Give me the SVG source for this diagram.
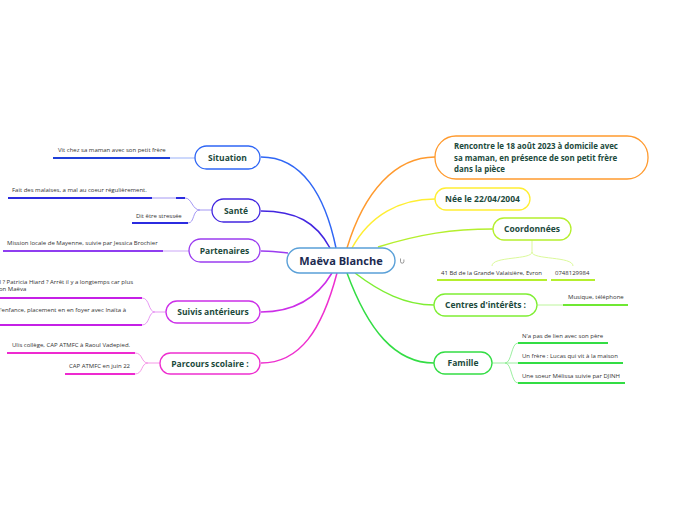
<svg xmlns="http://www.w3.org/2000/svg" width="696" height="520" viewBox="0 0 696 520">
<defs>
<style>
.lbl{font-family:"Open Sans","Noto Sans","DejaVu Sans",sans-serif;font-weight:700;font-size:8.5px;fill:#1c4a3c}
.r{font-size:7.9px}
.leaf{font-family:"Open Sans","Noto Sans","DejaVu Sans",sans-serif;font-size:6px;fill:#333}
.node{fill:#fff;stroke-width:1.3}
.c{fill:none;stroke-width:1.5}
.lt{fill:none;stroke-width:0.9}
.ul{fill:none;stroke-width:2}
</style>
</defs>
<rect width="696" height="520" fill="#fff"/>
<g id="connectors">
<path class="c" stroke="#2f66f5" d="M336,248 C325,195 302,157 261,157"/>
<path class="c" stroke="#4326e0" d="M330,248 C316,222 296,211 261,211"/>
<path class="c" stroke="#9b3cf0" d="M288,253 C276,252 270,251 261,251"/>
<path class="c" stroke="#cc2ee8" d="M332,273 C316,300 292,312 261,312"/>
<path class="c" stroke="#ee2fcf" d="M337,273 C322,330 300,363 261,363"/>
<path class="c" stroke="#ff9a2e" d="M347,248 C364,192 395,157 435,157"/>
<path class="c" stroke="#ffee33" d="M352,248 C370,215 400,199 435,199"/>
<path class="c" stroke="#b5ef2e" d="M378,247 C420,234 452,229 493,229"/>
<path class="c" stroke="#7fee33" d="M355,273 C380,292 405,305 434,305"/>
<path class="c" stroke="#33dd44" d="M347,273 C368,330 395,363 434,363"/>
<path class="lt" stroke="#8ea8f8" d="M170,158 H195"/>
<path class="lt" stroke="#9a8cf2" d="M212,210 H200 C192,210 192,198 185,198 M200,210 C192,210 195,223 188,223 M152,198 H176"/>
<path class="lt" stroke="#c59cf6" d="M163,251 H189"/>
<path class="lt" stroke="#e48cf2" d="M166,312 H155 C148,312 150,298 142,298 M155,312 C148,312 150,325 142,325"/>
<path class="lt" stroke="#f48ce4" d="M160,363 H148 C141,363 143,353 135,353 M148,363 C141,363 143,374 135,374"/>
<path class="lt" stroke="#d7f88e" d="M532,240 V252 C532,260 492,256 492,266 M532,252 C532,260 573,256 573,266"/>
<path class="lt" stroke="#b4f48e" d="M537,305 H563"/>
<path class="lt" stroke="#8eec94" d="M492,363 H505 C512,363 511,343 518,343 M505,363 H518 M505,363 C512,363 511,383 518,383"/>
<path class="ul" stroke="#1f40d8" d="M53,158 H170"/>
<path class="ul" stroke="#2b2be0" d="M8,198 H152 M176,198 H185 M132,223 H188"/>
<path class="ul" stroke="#8f3ef0" d="M3,251 H163"/>
<path class="ul" stroke="#c520e6" d="M0,298 H142 M0,325 H142"/>
<path class="ul" stroke="#ee2ad0" d="M7,353 H135 M65,374 H135"/>
<path class="ul" stroke="#b5ef2e" d="M437,280 H547 M551,280 H595"/>
<path class="ul" stroke="#6fe833" d="M563,305 H628"/>
<path class="ul" stroke="#33dd44" d="M518,343 H608 M518,363 H623 M518,383 H625"/>
</g>
<g id="center">
<rect x="287" y="248" width="108" height="25" rx="12.5" fill="#fff" stroke="#5aa0d8" stroke-width="1.4"/>
<text x="341" y="265" text-anchor="middle" style="font-family:'Open Sans','Noto Sans',sans-serif;font-weight:700;font-size:11px;fill:#1b2a50">Maëva Blanche</text>
<path d="M400.5,258.5 v3 a1.7,1.7 0 0 0 3.4,0 v-2" fill="none" stroke="#555" stroke-width="0.6"/>
</g>
<g id="situation">
<rect class="node" x="195" y="146" width="65" height="23" rx="11.5" stroke="#2f66f5"/>
<text class="lbl" x="227.5" y="160.5" text-anchor="middle">Situation</text>
<text class="leaf" x="58" y="152">Vit chez sa maman avec son petit frère</text>
</g>
<g id="sante">
<rect class="node" x="212" y="199" width="48" height="23" rx="11.5" stroke="#4326e0"/>
<text class="lbl" x="236" y="213.5" text-anchor="middle">Santé</text>
<text class="leaf" x="12" y="192">Fait des malaises, a mal au coeur régulièrement.</text>
<text class="leaf" x="136" y="218">Dit être stressée</text>
</g>
<g id="partenaires">
<rect class="node" x="189" y="239" width="71" height="23" rx="11.5" stroke="#9b3cf0"/>
<text class="lbl" x="224.5" y="253.5" text-anchor="middle">Partenaires</text>
<text class="leaf" x="7" y="245">Mission locale de Mayenne, suivie par Jessica Brochier</text>
</g>
<g id="suivis">
<rect class="node" x="166" y="301" width="94" height="22" rx="11" stroke="#cc2ee8"/>
<text class="lbl" x="213" y="315" text-anchor="middle">Suivis antérieurs</text>
<text class="leaf" x="133" y="284" text-anchor="end">l ? Patricia Hiard ? Arrêt il y a longtemps car plus</text>
<text class="leaf" x="-1" y="291">on Maëva</text>
<text class="leaf" x="126" y="312" text-anchor="end">l'enfance, placement en en foyer avec Inaïta à</text>
</g>
<g id="parcours">
<rect class="node" x="160" y="353" width="100" height="21" rx="10.5" stroke="#ee2fcf"/>
<text class="lbl" x="210" y="366.5" text-anchor="middle">Parcours scolaire :</text>
<text class="leaf" x="12" y="347">Ulis collège, CAP ATMFC à Raoul Vadepied.</text>
<text class="leaf" x="130" y="368" text-anchor="end">CAP ATMFC en juin 22</text>
</g>
<g id="rencontre">
<rect class="node" x="435" y="136" width="213" height="43" rx="21" stroke="#ff9a2e"/>
<text class="lbl r" x="454" y="149">Rencontre le 18 août 2023 à domicile avec</text>
<text class="lbl r" x="454" y="160.5">sa maman,  en présence de son petit frère</text>
<text class="lbl r" x="454" y="172">dans la pièce</text>
</g>
<g id="nee">
<rect class="node" x="435" y="188" width="95" height="22" rx="11" stroke="#ffee33"/>
<text class="lbl" x="482.5" y="202" text-anchor="middle">Née le 22/04/2004</text>
</g>
<g id="coordonnees">
<rect class="node" x="493" y="218" width="78" height="22" rx="11" stroke="#b5ef2e"/>
<text class="lbl" x="532" y="232" text-anchor="middle">Coordonnées</text>
<text class="leaf" x="441" y="275">41 Bd de la Grande Valaisière, Evron</text>
<text class="leaf" x="555" y="275">0748129984</text>
</g>
<g id="centres">
<rect class="node" x="434" y="294" width="103" height="22" rx="11" stroke="#7fee33"/>
<text class="lbl" x="485.5" y="308" text-anchor="middle">Centres d'intérêts :</text>
<text class="leaf" x="568" y="299">Musique, téléphone</text>
</g>
<g id="famille">
<rect class="node" x="434" y="352" width="58" height="22" rx="11" stroke="#33dd44"/>
<text class="lbl" x="463" y="366" text-anchor="middle">Famille</text>
<text class="leaf" x="522" y="338">N'a pas de lien avec son père</text>
<text class="leaf" x="522" y="358">Un frère : Lucas qui vit à la maison</text>
<text class="leaf" x="522" y="378">Une soeur Mélissa suivie par DJINH</text>
</g>
</svg>
